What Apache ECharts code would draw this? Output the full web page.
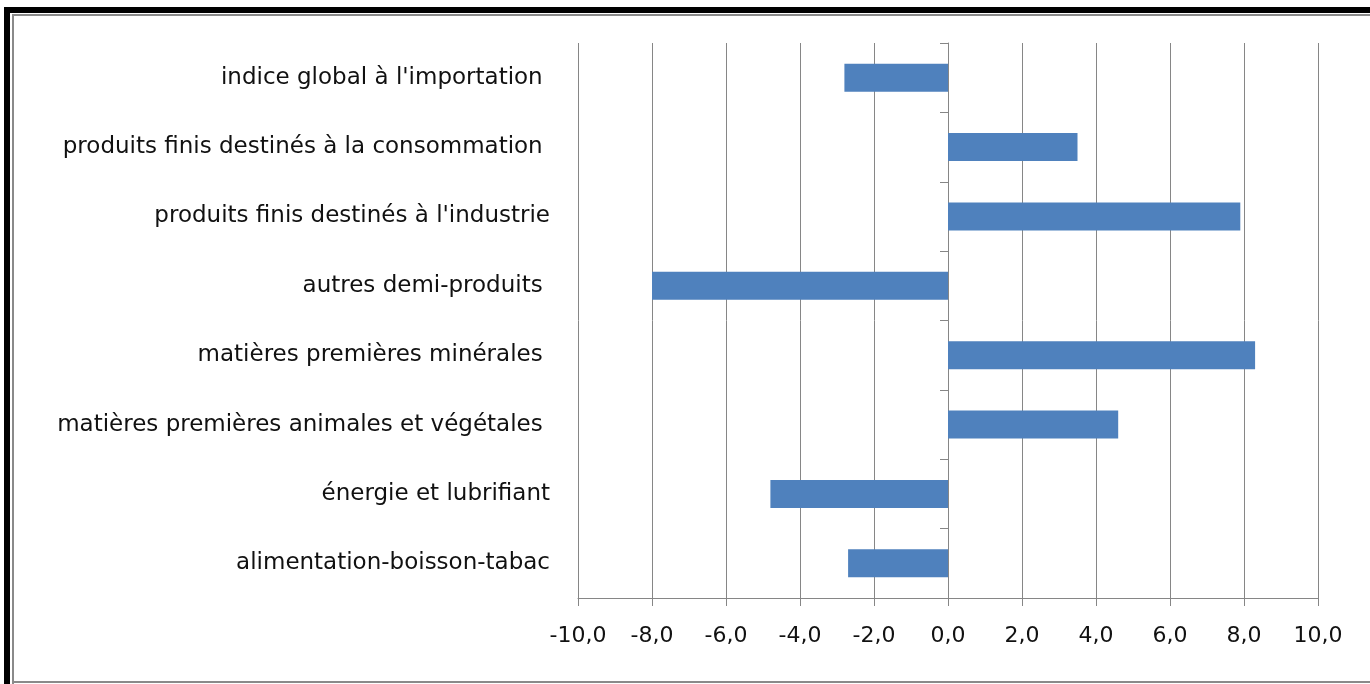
<!DOCTYPE html>
<html lang="fr">
<head>
<meta charset="UTF-8">
<script src="https://cdn.jsdelivr.net/npm/echarts@6/dist/echarts.min.js"></script>
<style>
  html, body { margin: 0; padding: 0; background: #fff; }
  #wrap { position: relative; width: 1370px; height: 684px; overflow: hidden; }
  /* cadre noir + filet gris */
  #b-top { position: absolute; left: 4px; top: 7px; width: 1366px; height: 6px; background: #000; }
  #b-left { position: absolute; left: 4px; top: 7px; width: 6px; height: 677px; background: #000; }
  #g-top { position: absolute; left: 12px; top: 14px; width: 1358px; height: 2px; background: #8a8a8a; }
  #g-left { position: absolute; left: 12px; top: 14px; width: 2px; height: 670px; background: #8a8a8a; }
  #g-bot { position: absolute; left: 12px; top: 681px; width: 1358px; height: 2px; background: #8a8a8a; }
  #chart { position: absolute; left: 0; top: 0; width: 1370px; height: 684px; }
</style>
</head>
<body>
<div id="wrap">
  <div id="chart"></div>
  <div id="b-top"></div><div id="b-left"></div>
  <div id="g-top"></div><div id="g-left"></div><div id="g-bot"></div>
</div>
<script>
// catégories (de haut en bas)
const categories = [
  "indice global à l'importation ",
  "produits finis destinés à la consommation ",
  "produits finis destinés à l'industrie",
  "autres demi-produits ",
  "matières premières minérales ",
  "matières premières animales et végétales ",
  "énergie et lubrifiant",
  "alimentation-boisson-tabac"
];
// variation (%)
const values = [-2.8, 3.5, 7.9, -8.0, 8.3, 4.6, -4.8, -2.7];
const xMin = -10, xMax = 10, xStep = 2;

const chart = echarts.init(document.getElementById('chart'));
const grey = '#868686';
const font = 'DejaVu Sans';
chart.setOption({
  animation: false,
  grid: { left: 578, right: 52, top: 43, bottom: 86, outerBoundsMode: 'none', containLabel: false },
  xAxis: {
    type: 'value', min: xMin, max: xMax, interval: xStep,
    axisLine: { show: true, onZero: false, lineStyle: { color: grey, width: 1 } },
    axisTick: { show: true, length: 8, lineStyle: { color: grey } },
    splitLine: { show: true, lineStyle: { color: grey, width: 1 } },
    axisLabel: {
      margin: 27, color: '#111', fontSize: 22, fontFamily: font,
      formatter: v => v.toFixed(1).replace('.', ',')
    }
  },
  yAxis: {
    type: 'category', data: categories, inverse: true,
    axisLine: { show: true, onZero: true, lineStyle: { color: grey, width: 1 } },
    axisTick: { show: true, length: 8, lineStyle: { color: grey } },
    splitLine: { show: false },
    axisLabel: { margin: 28, color: '#111', fontSize: 23, fontFamily: font }
  },
  series: [{
    type: 'bar', data: values, barWidth: 28,
    itemStyle: { color: '#4f81bd' }
  }]
});
</script>
</body>
</html>
